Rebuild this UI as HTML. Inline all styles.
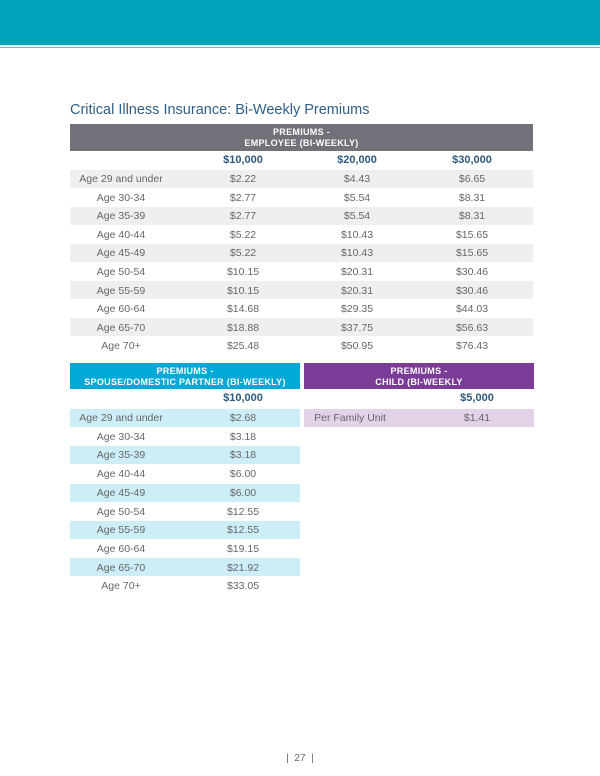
<!DOCTYPE html>
<html><head><meta charset="utf-8"><style>
*{margin:0;padding:0;box-sizing:border-box}
body{width:600px;height:776px;background:#fff;position:relative;overflow:hidden;font-family:"Liberation Sans",sans-serif;}
.a{position:absolute}
.t{position:absolute;font-size:10.5px;color:#666;transform:translateX(-50%);white-space:nowrap;line-height:18.6px}
.h{position:absolute;color:#fff;font-weight:bold;font-size:9px;text-align:center;line-height:11px;letter-spacing:0.3px}
.c{position:absolute;font-weight:bold;font-size:11px;color:#2e5a7e;transform:translateX(-50%);line-height:16px}
</style></head><body>
<div class="a" style="left:0;top:0;width:600px;height:45px;background:#00a2bb"></div>
<div class="a" style="left:0;top:45px;width:600px;height:2px;background:#e6f6f8"></div>
<div class="a" style="left:0;top:47px;width:600px;height:1px;background:#5cc3d2"></div>
<div class="a" style="left:70px;top:102px;font-size:14.5px;color:#2f5f86">Critical Illness Insurance: Bi-Weekly Premiums</div>

<div class="a" style="left:70px;top:124px;width:463px;height:27px;background:#717279"></div>
<div class="h" style="left:70px;top:127px;width:463px">PREMIUMS -<br>EMPLOYEE (BI-WEEKLY)</div>
<div class="c" style="left:243px;top:152px">$10,000</div>
<div class="c" style="left:357px;top:152px">$20,000</div>
<div class="c" style="left:472px;top:152px">$30,000</div>
<div class="a" style="left:70px;top:170px;width:463px;height:18px;background:#efefef"></div>
<div class="a" style="left:70px;top:207px;width:463px;height:18px;background:#efefef"></div>
<div class="a" style="left:70px;top:244px;width:463px;height:18px;background:#efefef"></div>
<div class="a" style="left:70px;top:281px;width:463px;height:18px;background:#efefef"></div>
<div class="a" style="left:70px;top:318px;width:463px;height:18px;background:#efefef"></div>

<div class="t" style="left:121px;top:170px">Age 29 and under</div><div class="t" style="left:243px;top:170px">$2.22</div><div class="t" style="left:357px;top:170px">$4.43</div><div class="t" style="left:472px;top:170px">$6.65</div>
<div class="t" style="left:121px;top:188.6px">Age 30-34</div><div class="t" style="left:243px;top:188.6px">$2.77</div><div class="t" style="left:357px;top:188.6px">$5.54</div><div class="t" style="left:472px;top:188.6px">$8.31</div>
<div class="t" style="left:121px;top:207.2px">Age 35-39</div><div class="t" style="left:243px;top:207.2px">$2.77</div><div class="t" style="left:357px;top:207.2px">$5.54</div><div class="t" style="left:472px;top:207.2px">$8.31</div>
<div class="t" style="left:121px;top:225.8px">Age 40-44</div><div class="t" style="left:243px;top:225.8px">$5.22</div><div class="t" style="left:357px;top:225.8px">$10.43</div><div class="t" style="left:472px;top:225.8px">$15.65</div>
<div class="t" style="left:121px;top:244.4px">Age 45-49</div><div class="t" style="left:243px;top:244.4px">$5.22</div><div class="t" style="left:357px;top:244.4px">$10.43</div><div class="t" style="left:472px;top:244.4px">$15.65</div>
<div class="t" style="left:121px;top:263px">Age 50-54</div><div class="t" style="left:243px;top:263px">$10.15</div><div class="t" style="left:357px;top:263px">$20.31</div><div class="t" style="left:472px;top:263px">$30.46</div>
<div class="t" style="left:121px;top:281.6px">Age 55-59</div><div class="t" style="left:243px;top:281.6px">$10.15</div><div class="t" style="left:357px;top:281.6px">$20.31</div><div class="t" style="left:472px;top:281.6px">$30.46</div>
<div class="t" style="left:121px;top:300.2px">Age 60-64</div><div class="t" style="left:243px;top:300.2px">$14.68</div><div class="t" style="left:357px;top:300.2px">$29.35</div><div class="t" style="left:472px;top:300.2px">$44.03</div>
<div class="t" style="left:121px;top:318.8px">Age 65-70</div><div class="t" style="left:243px;top:318.8px">$18.88</div><div class="t" style="left:357px;top:318.8px">$37.75</div><div class="t" style="left:472px;top:318.8px">$56.63</div>
<div class="t" style="left:121px;top:337.4px">Age 70+</div><div class="t" style="left:243px;top:337.4px">$25.48</div><div class="t" style="left:357px;top:337.4px">$50.95</div><div class="t" style="left:472px;top:337.4px">$76.43</div>

<div class="a" style="left:70px;top:363px;width:230px;height:26px;background:#00a8d6"></div>
<div class="h" style="left:70px;top:366px;width:230px">PREMIUMS -<br>SPOUSE/DOMESTIC PARTNER (BI-WEEKLY)</div>
<div class="a" style="left:304px;top:363px;width:230px;height:26px;background:#7b3c97"></div>
<div class="h" style="left:304px;top:366px;width:230px">PREMIUMS -<br>CHILD (BI-WEEKLY</div>
<div class="c" style="left:243px;top:390px">$10,000</div>
<div class="c" style="left:477px;top:390px">$5,000</div>
<div class="a" style="left:304px;top:409px;width:230px;height:18px;background:#e2d3e8"></div>
<div class="t" style="left:350px;top:409px">Per Family Unit</div><div class="t" style="left:477px;top:409px">$1.41</div>

<div class="a" style="left:70px;top:409px;width:230px;height:18px;background:#cdeef7"></div>
<div class="a" style="left:70px;top:446px;width:230px;height:18px;background:#cdeef7"></div>
<div class="a" style="left:70px;top:484px;width:230px;height:18px;background:#cdeef7"></div>
<div class="a" style="left:70px;top:521px;width:230px;height:18px;background:#cdeef7"></div>
<div class="a" style="left:70px;top:558px;width:230px;height:18px;background:#cdeef7"></div>
<div class="t" style="left:121px;top:409px">Age 29 and under</div><div class="t" style="left:243px;top:409px">$2.68</div>
<div class="t" style="left:121px;top:427.7px">Age 30-34</div><div class="t" style="left:243px;top:427.7px">$3.18</div>
<div class="t" style="left:121px;top:446.4px">Age 35-39</div><div class="t" style="left:243px;top:446.4px">$3.18</div>
<div class="t" style="left:121px;top:465.1px">Age 40-44</div><div class="t" style="left:243px;top:465.1px">$6.00</div>
<div class="t" style="left:121px;top:483.8px">Age 45-49</div><div class="t" style="left:243px;top:483.8px">$6.00</div>
<div class="t" style="left:121px;top:502.5px">Age 50-54</div><div class="t" style="left:243px;top:502.5px">$12.55</div>
<div class="t" style="left:121px;top:521.2px">Age 55-59</div><div class="t" style="left:243px;top:521.2px">$12.55</div>
<div class="t" style="left:121px;top:539.9px">Age 60-64</div><div class="t" style="left:243px;top:539.9px">$19.15</div>
<div class="t" style="left:121px;top:558.6px">Age 65-70</div><div class="t" style="left:243px;top:558.6px">$21.92</div>
<div class="t" style="left:121px;top:577.3px">Age 70+</div><div class="t" style="left:243px;top:577.3px">$33.05</div>

<div class="t" style="left:300px;top:750px;font-size:10px">|&nbsp; 27 &nbsp;|</div>
</body></html>
